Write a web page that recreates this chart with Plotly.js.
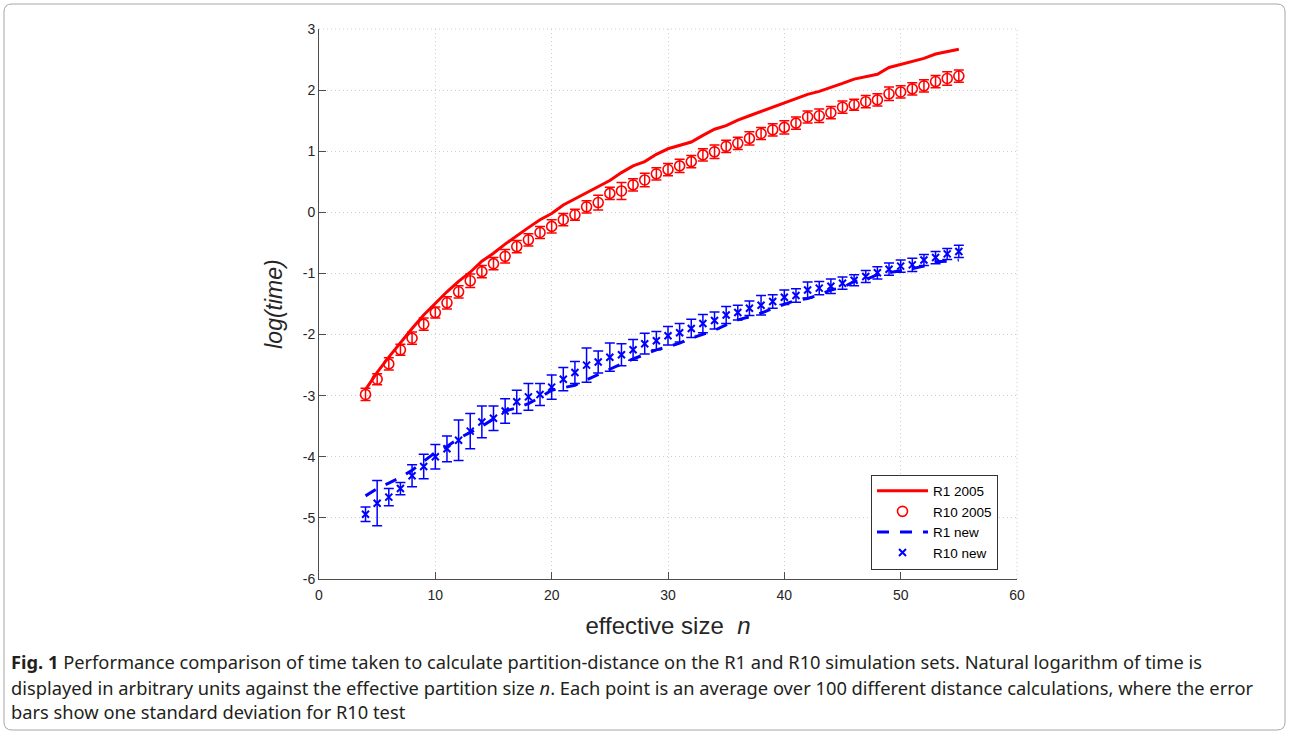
<!DOCTYPE html>
<html>
<head>
<meta charset="utf-8">
<script src="https://cdn.plot.ly/plotly-3.0.1.min.js"></script>
<style>
  html, body { margin: 0; padding: 0; background: #ffffff; }
  #chart { width: 1289px; height: 735px; }
</style>
</head>
<body>
<div id="chart"></div>
<script>
// ---- data ----
const nValues = [4,5,6,7,8,9,10,11,12,13,14,15,16,17,18,19,20,21,22,23,24,25,26,27,28,29,30,
  31,32,33,34,35,36,37,38,39,40,41,42,43,44,45,46,47,48,49,50,51,52,53,54,55];

const r1_2005 = [-2.90,-2.62,-2.37,-2.13,-1.90,-1.68,-1.49,-1.30,-1.13,-0.98,-0.80,-0.67,-0.52,-0.38,
  -0.25,-0.12,-0.02,0.12,0.22,0.32,0.42,0.52,0.65,0.76,0.83,0.95,1.04,1.10,1.15,1.26,1.36,1.42,1.51,
  1.58,1.65,1.72,1.78,1.86,1.93,1.98,2.04,2.11,2.18,2.22,2.26,2.37,2.42,2.47,2.52,2.59,2.63,2.67];

const r10_2005 = [-2.98,-2.73,-2.48,-2.25,-2.06,-1.83,-1.64,-1.48,-1.30,-1.12,-0.97,-0.84,-0.72,-0.56,
  -0.45,-0.33,-0.23,-0.12,-0.04,0.09,0.16,0.31,0.35,0.45,0.53,0.63,0.70,0.76,0.83,0.94,0.99,1.08,1.13,
  1.21,1.29,1.35,1.39,1.46,1.56,1.58,1.63,1.72,1.76,1.81,1.84,1.94,1.97,2.02,2.07,2.14,2.19,2.23];

const r10_2005_sd = [0.10,0.09,0.10,0.09,0.10,0.10,0.09,0.10,0.10,0.11,0.10,0.10,0.11,0.10,0.10,0.10,
  0.11,0.10,0.09,0.10,0.12,0.10,0.14,0.10,0.11,0.10,0.10,0.11,0.10,0.10,0.11,0.10,0.10,0.11,0.10,0.10,
  0.11,0.10,0.10,0.11,0.10,0.10,0.09,0.10,0.10,0.11,0.10,0.10,0.10,0.10,0.11,0.10];

const r1_new = [-4.64,-4.52,-4.43,-4.34,-4.22,-4.08,-3.93,-3.83,-3.70,-3.60,-3.50,-3.38,-3.25,-3.20,
  -3.13,-3.03,-2.91,-2.87,-2.83,-2.74,-2.65,-2.56,-2.48,-2.40,-2.33,-2.25,-2.20,-2.14,-2.06,-2.00,-1.93,
  -1.84,-1.76,-1.71,-1.65,-1.57,-1.50,-1.44,-1.41,-1.35,-1.27,-1.23,-1.13,-1.10,-1.02,-0.99,-0.95,
  -0.92,-0.88,-0.81,-0.80,-0.78];

const r10_new = [-4.94,-4.76,-4.66,-4.52,-4.31,-4.16,-4.00,-3.87,-3.73,-3.58,-3.43,-3.37,-3.25,-3.10,
  -3.02,-2.98,-2.86,-2.73,-2.62,-2.50,-2.45,-2.37,-2.33,-2.25,-2.15,-2.10,-2.02,-1.97,-1.90,-1.82,-1.77,
  -1.68,-1.64,-1.57,-1.52,-1.46,-1.39,-1.36,-1.27,-1.24,-1.21,-1.16,-1.11,-1.05,-0.99,-0.93,-0.88,
  -0.86,-0.78,-0.74,-0.68,-0.64];

const r10_new_sd = [0.12,0.37,0.14,0.10,0.18,0.20,0.20,0.21,0.33,0.29,0.26,0.20,0.20,0.19,0.22,0.18,
  0.20,0.19,0.18,0.28,0.18,0.23,0.18,0.17,0.17,0.15,0.15,0.15,0.15,0.15,0.14,0.14,0.12,0.12,0.16,0.11,
  0.12,0.11,0.13,0.11,0.12,0.10,0.09,0.10,0.10,0.10,0.10,0.11,0.09,0.10,0.09,0.10];

const seriesNames = ['R1 2005', 'R10 2005', 'R1 new', 'R10 new'];

const xTickVals = [0,10,20,30,40,50,60];
const xTickText = ['0','10','20','30','40','50','60'];
const yTickVals = [-6,-5,-4,-3,-2,-1,0,1,2,3];
const yTickText = ['-6','-5','-4','-3','-2','-1','0','1','2','3'];

const captionLines = [
  '<b>Fig. 1</b> Performance comparison of time taken to calculate partition-distance on the R1 and R10 simulation sets. Natural logarithm of time is',
  'displayed in arbitrary units against the effective partition size <i>n</i>. Each point is an average over 100 different distance calculations, where the error',
  'bars show one standard deviation for R10 test'
];

// ---- layout helpers ----
const W = 1289, H = 735;
const plotL = 319, plotR = 1017, plotT = 29, plotB = 579;
const pw = plotR - plotL, ph = plotB - plotT;
const px = v => (v - plotL) / pw;
const py = v => (plotB - v) / ph;

const RED = '#ff0000', BLUE = '#0000ff';
const GRID = '#cccccc';

const traces = [
  { x: nValues, y: r1_2005, name: seriesNames[0], type: 'scatter', mode: 'lines',
    line: { color: RED, width: 3 } },
  { x: nValues, y: r10_2005, name: seriesNames[1], type: 'scatter', mode: 'markers',
    marker: { symbol: 'circle-open', size: 10, color: RED, line: { color: RED, width: 1.6 } },
    error_y: { type: 'data', array: r10_2005_sd, visible: true, color: RED, thickness: 1.5, width: 5 } },
  { x: nValues, y: r1_new, name: seriesNames[2], type: 'scatter', mode: 'lines',
    line: { color: BLUE, width: 3, dash: '12px,11px' } },
  { x: nValues, y: r10_new, name: seriesNames[3], type: 'scatter', mode: 'markers',
    marker: { symbol: 'x-thin-open', size: 7, color: BLUE, line: { color: BLUE, width: 2 } },
    error_y: { type: 'data', array: r10_new_sd, visible: true, color: BLUE, thickness: 1.5, width: 5 } }
];

// border (rounded rectangle around the figure)
const bx0 = px(4), bx1 = px(1285), by0 = py(730), by1 = py(4);
const rx = 8 / pw, ry = 8 / ph;
const borderPath = `M ${bx0 + rx} ${by1} L ${bx1 - rx} ${by1} Q ${bx1} ${by1} ${bx1} ${by1 - ry} ` +
  `L ${bx1} ${by0 + ry} Q ${bx1} ${by0} ${bx1 - rx} ${by0} L ${bx0 + rx} ${by0} ` +
  `Q ${bx0} ${by0} ${bx0} ${by0 + ry} L ${bx0} ${by1 - ry} Q ${bx0} ${by1} ${bx0 + rx} ${by1} Z`;

const captionY = [661, 687, 712];
const annotations = captionLines.map((t, i) => ({
  text: t, xref: 'paper', yref: 'paper', x: px(9), y: py(captionY[i]),
  xanchor: 'left', yanchor: 'middle', showarrow: false, align: 'left',
  font: { family: 'Noto Sans, Open Sans, sans-serif', size: 18.3, color: '#231f20' }
}));

const axisFont = { family: 'Liberation Sans, Arial, sans-serif', size: 14, color: '#262626' };

const layout = {
  width: W, height: H,
  margin: { l: plotL, r: W - plotR, t: plotT, b: H - plotB, pad: 0 },
  paper_bgcolor: '#ffffff', plot_bgcolor: '#ffffff',
  showlegend: true,
  legend: {
    x: px(871), y: py(522), xanchor: 'left', yanchor: 'middle',
    bgcolor: '#ffffff', bordercolor: '#333333', borderwidth: 1,
    font: { family: 'Liberation Sans, Arial, sans-serif', size: 13.5, color: '#000000' },
    tracegroupgap: 0, itemwidth: 51
  },
  xaxis: {
    range: [0, 60], tickmode: 'array', tickvals: xTickVals, ticktext: xTickText,
    showgrid: true, gridcolor: GRID, griddash: '1px,3px', gridwidth: 1,
    zeroline: false, showline: true, linecolor: '#4d4d4d', linewidth: 1, mirror: false,
    ticks: 'inside', ticklen: 7, tickcolor: '#4d4d4d', tickwidth: 1,
    ticklabelstandoff: 3,
    tickfont: axisFont,
    title: { text: 'effective size  <i>n</i>', standoff: 15,
      font: { family: 'Liberation Sans, Arial, sans-serif', size: 24, color: '#262626' } }
  },
  yaxis: {
    range: [-6, 3], tickmode: 'array', tickvals: yTickVals, ticktext: yTickText,
    showgrid: true, gridcolor: GRID, griddash: '1px,3px', gridwidth: 1,
    zeroline: false, showline: true, linecolor: '#4d4d4d', linewidth: 1, mirror: false,
    ticks: 'inside', ticklen: 7, tickcolor: '#4d4d4d', tickwidth: 1,
    tickfont: axisFont,
    title: { text: '<i>log(time)</i>', standoff: 13,
      font: { family: 'Liberation Sans, Arial, sans-serif', size: 23, color: '#262626' } }
  },
  shapes: [
    { type: 'path', xref: 'paper', yref: 'paper', path: borderPath,
      line: { color: '#a6a6a6', width: 1 }, fillcolor: 'rgba(0,0,0,0)', layer: 'below' },
    { type: 'line', xref: 'paper', yref: 'paper', x0: 0, x1: 1, y0: 1, y1: 1,
      line: { color: GRID, width: 1, dash: '1px,3px' }, layer: 'below' },
    { type: 'line', xref: 'paper', yref: 'paper', x0: 1, x1: 1, y0: 0, y1: 1,
      line: { color: GRID, width: 1, dash: '1px,3px' }, layer: 'below' }
  ],
  annotations: annotations
};

Plotly.newPlot('chart', traces, layout, { displayModeBar: false, staticPlot: true });
</script>
</body>
</html>
